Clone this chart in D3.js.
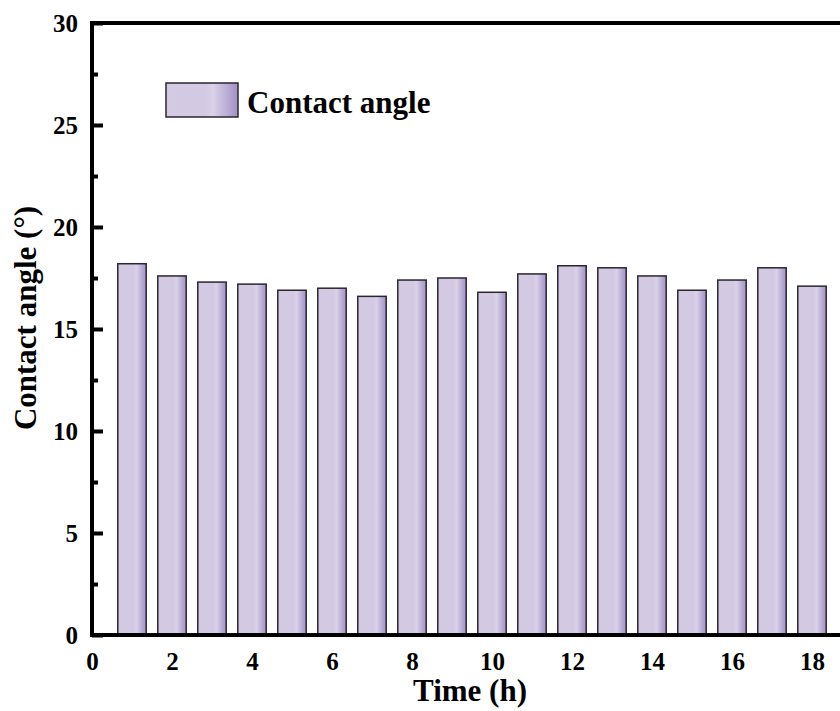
<!DOCTYPE html>
<html>
<head>
<meta charset="utf-8">
<script src="https://cdn.jsdelivr.net/npm/d3@7"></script>
<style>
  html, body { margin: 0; padding: 0; background: #fff; }
  svg { display: block; }
  text { font-family: "Liberation Serif", "Times New Roman", serif; font-weight: bold; fill: #000; }
</style>
</head>
<body>
<svg id="chart" width="840" height="711"></svg>
<script>
// ---- data ----
const times = [1, 2, 3, 4, 5, 6, 7, 8, 9, 10, 11, 12, 13, 14, 15, 16, 17, 18];
const contactAngle = [18.2, 17.6, 17.3, 17.2, 16.9, 17.0, 16.6, 17.4, 17.5, 16.8, 17.7, 18.1, 18.0, 17.6, 16.9, 17.4, 18.0, 17.1];
const xTicks = [0, 2, 4, 6, 8, 10, 12, 14, 16, 18];
const yTicks = [0, 5, 10, 15, 20, 25, 30];
const yMinorTicks = [2.5, 7.5, 12.5, 17.5, 22.5, 27.5];
const seriesName = "Contact angle";
const xTitle = "Time (h)";
const yTitle = "Contact angle (°)";

// ---- layout ----
const svg = d3.select("#chart");
const x = d3.scaleLinear().domain([0, 20]).range([92, 892]);
const y = d3.scaleLinear().domain([0, 30]).range([635, 23]);
const barW = (x(0.71) - x(0));

// gradient
const defs = svg.append("defs");
const grad = defs.append("linearGradient").attr("id", "barGrad")
  .attr("x1", "0%").attr("x2", "100%").attr("y1", "0%").attr("y2", "0%");
[["0%", "#d5cae3"], ["55%", "#d4c9e2"], ["66%", "#dad1e8"], ["80%", "#c2b5da"], ["100%", "#a390c5"]]
  .forEach(([o, c]) => grad.append("stop").attr("offset", o).attr("stop-color", c));

// bars
svg.append("g").selectAll("rect").data(times).join("rect")
  .attr("x", (d) => x(d) - barW / 2)
  .attr("y", (d, i) => y(contactAngle[i]))
  .attr("width", barW)
  .attr("height", (d, i) => y(0) - y(contactAngle[i]))
  .attr("fill", "url(#barGrad)")
  .attr("stroke", "#2a2630")
  .attr("stroke-width", 1.5);

// axes
const yAxis = d3.axisLeft(y).tickValues(yTicks).tickSizeInner(-11).tickSizeOuter(0).tickPadding(14)
  .tickFormat(d3.format("d"));
const gy = svg.append("g").attr("transform", `translate(${x(0)},0)`).call(yAxis);
gy.selectAll("text").style("font-size", "25px").attr("dy", "0.34em");
gy.selectAll(".tick line").attr("stroke", "#000").attr("stroke-width", 4);
gy.select(".domain").remove();

const yMinor = d3.axisLeft(y).tickValues(yMinorTicks).tickSizeInner(-6).tickSizeOuter(0).tickFormat("");
const gym = svg.append("g").attr("transform", `translate(${x(0)},0)`).call(yMinor);
gym.selectAll(".tick line").attr("stroke", "#000").attr("stroke-width", 4);
gym.select(".domain").remove();

const xAxis = d3.axisBottom(x).tickValues(xTicks).tickSizeInner(0).tickSizeOuter(0).tickPadding(17)
  .tickFormat(d3.format("d"));
const gx = svg.append("g").attr("transform", `translate(0,${y(0)})`).call(xAxis);
gx.selectAll("text").style("font-size", "25px");
gx.select(".domain").remove();

// frame lines
const frame = svg.append("g").attr("stroke", "#000").attr("stroke-width", 4).attr("stroke-linecap", "square");
frame.append("line").attr("x1", x(0)).attr("x2", x(20)).attr("y1", y(0)).attr("y2", y(0));
frame.append("line").attr("x1", x(0)).attr("x2", x(20)).attr("y1", y(30)).attr("y2", y(30));
frame.append("line").attr("x1", x(0)).attr("x2", x(0)).attr("y1", y(0)).attr("y2", y(30));

// titles
svg.append("text").attr("x", 470).attr("y", 701).attr("text-anchor", "middle")
  .style("font-size", "31px").text(xTitle);
svg.append("text").attr("transform", "translate(36,318) rotate(-90)").attr("text-anchor", "middle")
  .style("font-size", "31px").text(yTitle);

// legend
svg.append("rect").attr("x", 166).attr("y", 83).attr("width", 72).attr("height", 34)
  .attr("fill", "url(#barGrad)").attr("stroke", "#2a2630").attr("stroke-width", 1.5);
svg.append("text").attr("x", 247).attr("y", 113).style("font-size", "31px").text(seriesName);
</script>
</body>
</html>
